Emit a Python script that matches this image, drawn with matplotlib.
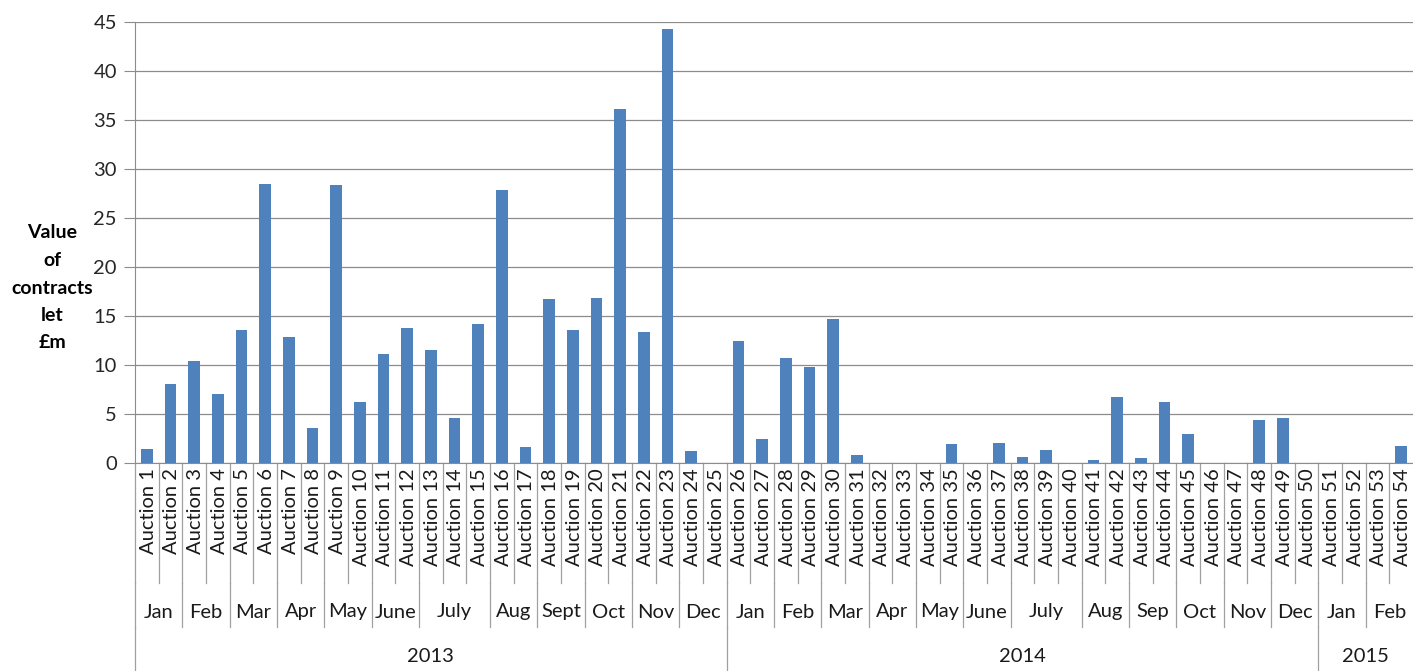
import numpy as np
import matplotlib.pyplot as plt
from matplotlib.transforms import blended_transform_factory

plt.rcParams['font.family'] = ['Lato', 'DejaVu Sans']

auctions = ["Auction %d" % i for i in range(1, 55)]
values = [1.4, 8.1, 10.4, 7.0, 13.6, 28.5, 12.9, 3.6, 28.4, 6.2,
          11.1, 13.8, 11.5, 4.6, 14.2, 27.9, 1.6, 16.7, 13.6, 16.8,
          36.1, 13.4, 44.3, 1.2, 0.0, 12.4, 2.4, 10.7, 9.8, 14.7,
          0.8, 0.0, 0.0, 0.0, 1.9, 0.0, 2.0, 0.6, 1.3, 0.0,
          0.3, 6.7, 0.5, 6.2, 3.0, 0.0, 0.0, 4.4, 4.6, 0.0,
          0.0, 0.0, 0.0, 1.7]
months = ["Jan", "Feb", "Mar", "Apr", "May", "June", "July", "Aug", "Sept", "Oct", "Nov", "Dec",
          "Jan", "Feb", "Mar", "Apr", "May", "June", "July", "Aug", "Sep", "Oct", "Nov", "Dec",
          "Jan", "Feb"]
month_sizes = [2, 2, 2, 2, 2, 2, 3, 2, 2, 2, 2, 2,
               2, 2, 2, 2, 2, 2, 3, 2, 2, 2, 2, 2,
               2, 2]
years = ["2013", "2014", "2015"]
year_sizes = [25, 25, 4]

W, H = 1413, 671
fig = plt.figure(figsize=(W / 100, H / 100), dpi=100)
ax = fig.add_axes([135 / W, 1 - 463 / H, (W - 135) / W, (463 - 22) / H])

x = np.arange(len(values))
ax.bar(x, values, width=0.48, color="#4F81BD", zorder=3)
ax.set_xlim(-0.5, len(values) - 0.5)
ax.set_ylim(0, 45)
ax.set_yticks(range(0, 46, 5))
ax.yaxis.grid(True, color="#8c8c8c", linewidth=0.9, zorder=0)
ax.tick_params(axis="y", length=8, color="#8c8c8c", labelsize=14.5, labelcolor="#262626", pad=5)
ax.set_xticks([])
for s in ["top", "right"]:
    ax.spines[s].set_visible(False)
ax.spines["left"].set_color("#8c8c8c")
ax.spines["bottom"].set_color("#8c8c8c")

tr = blended_transform_factory(ax.transData, fig.transFigure)


def fy(py):
    return 1 - py / H


line_kw = dict(color="#a0a0a0", linewidth=0.9, transform=tr, clip_on=False)

# auction labels and inner separators
for i, lab in enumerate(auctions):
    ax.text(i + 0.05, fy(468), lab, rotation=90, ha="center", va="top",
            fontsize=14.5, color="#1a1a1a", transform=tr)
    ax.plot([i - 0.5, i - 0.5], [fy(463), fy(583)], **line_kw)

# month labels and separators
start = 0
for m, n in zip(months, month_sizes):
    ax.text(start + (n - 1) / 2, fy(612), m, ha="center", va="center",
            fontsize=14.5, color="#1a1a1a", transform=tr)
    ax.plot([start - 0.5, start - 0.5], [fy(583), fy(627)], **line_kw)
    start += n

# year labels and separators
start = 0
for y, n in zip(years, year_sizes):
    ax.text(start + (n - 1) / 2, fy(657), y, ha="center", va="center",
            fontsize=14.5, color="#1a1a1a", transform=tr)
    ax.plot([start - 0.5, start - 0.5], [fy(627), fy(671)], **line_kw)
    start += n

fig.text(52 / W, fy(288), "Value\nof\ncontracts\nlet\n£m", ha="center", va="center",
         fontsize=14, fontweight="bold", linespacing=1.75)

fig.savefig("out.png", dpi=100)
